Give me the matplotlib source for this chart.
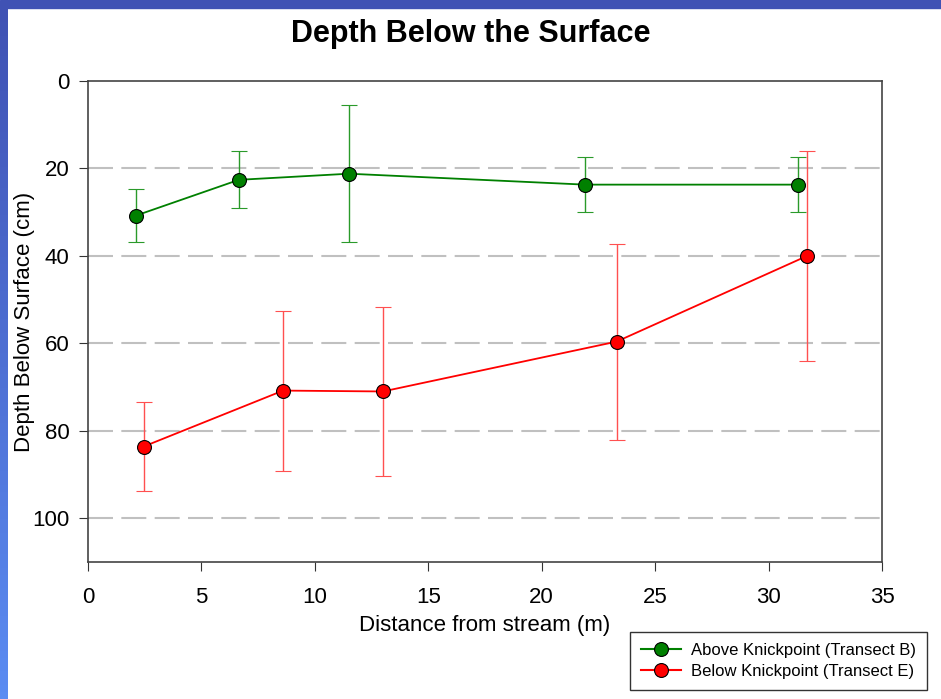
import numpy as np
import matplotlib
matplotlib.use("Agg")
import matplotlib.pyplot as plt
from matplotlib.patches import Rectangle
from matplotlib.lines import Line2D

plt.rcParams['font.family'] = ['Liberation Sans', 'DejaVu Sans']

## data
above_x = [2.1, 6.65, 11.5, 21.9, 31.3]
above_y = [30.8, 22.6, 21.2, 23.7, 23.7]
above_err = [6.1, 6.5, 15.7, 6.3, 6.3]

below_x = [2.45, 8.6, 13.0, 23.3, 31.7]
below_y = [83.6, 70.8, 71.0, 59.6, 40.0]
below_err = [10.2, 18.3, 19.3, 22.4, 24.0]

labels = ['Above Knickpoint (Transect B)', 'Below Knickpoint (Transect E)']
yticks = [0, 20, 40, 60, 80, 100]
xticks = [0, 5, 10, 15, 20, 25, 30, 35]

fig = plt.figure(figsize=(9.41, 6.99), dpi=100)

# blue slide border, top and left
fig.patches.append(Rectangle((0, 1 - 8 / 699), 1, 8 / 699, transform=fig.transFigure,
                             color='#4052b4', zorder=0))
band = fig.add_axes([0, 0, 8 / 941, 1 - 8 / 699])
grad = np.linspace(0, 1, 100).reshape(-1, 1)
cmap = matplotlib.colors.LinearSegmentedColormap.from_list('b', ['#4052b4', '#5b8cf2'])
band.imshow(grad, aspect='auto', cmap=cmap)
band.axis('off')

ax = fig.add_axes([88 / 941, 1 - 562 / 699, (882 - 88) / 941, (562 - 81) / 699])

for y in yticks[1:]:
    ax.axhline(y, color='#c0c0c0', lw=1.5, dashes=(12, 4), zorder=0)

ax.errorbar(above_x, above_y, yerr=above_err, color='#008000', lw=1.3,
            marker='o', ms=10, mfc='#008000', mec='black', mew=0.8,
            ecolor='#2a9a2a', elinewidth=1, capsize=6, capthick=1)
ax.errorbar(below_x, below_y, yerr=below_err, color='#ff0000', lw=1.3,
            marker='o', ms=10, mfc='#ff0000', mec='black', mew=0.8,
            ecolor='#ff5050', elinewidth=1, capsize=6, capthick=1)

ax.set_xlim(0, 35)
ax.set_ylim(110, 0)
ax.set_xticks(xticks)
ax.set_yticks(yticks)
ax.tick_params(direction='out', length=6.5, labelsize=16, color='#333333')
ax.tick_params(axis='x', pad=11.5)
ax.tick_params(axis='y', pad=7)
for s in ax.spines.values():
    s.set_color('#444444')
    s.set_linewidth(1.2)

ax.set_xlabel('Distance from stream (m)', fontsize=16, labelpad=5)
ax.set_ylabel('Depth Below Surface (cm)', fontsize=16, labelpad=-2)
fig.suptitle('Depth Below the Surface', fontsize=22, fontweight='bold', y=0.973)

handles = [Line2D([], [], color='#008000', marker='o', ms=10, mfc='#008000', mec='black', mew=0.8),
           Line2D([], [], color='#ff0000', marker='o', ms=10, mfc='#ff0000', mec='black', mew=0.8)]
leg = fig.legend(handles, labels, loc='lower right',
                 bbox_to_anchor=(927 / 941, 1 - 690 / 699),
                 fontsize=12, frameon=True, fancybox=False, edgecolor='black',
                 borderaxespad=0, handlelength=2.4, labelspacing=0.4,
                 borderpad=0.65, handletextpad=0.6)
leg.get_frame().set_linewidth(1)

fig.savefig('out.png', dpi=100)
